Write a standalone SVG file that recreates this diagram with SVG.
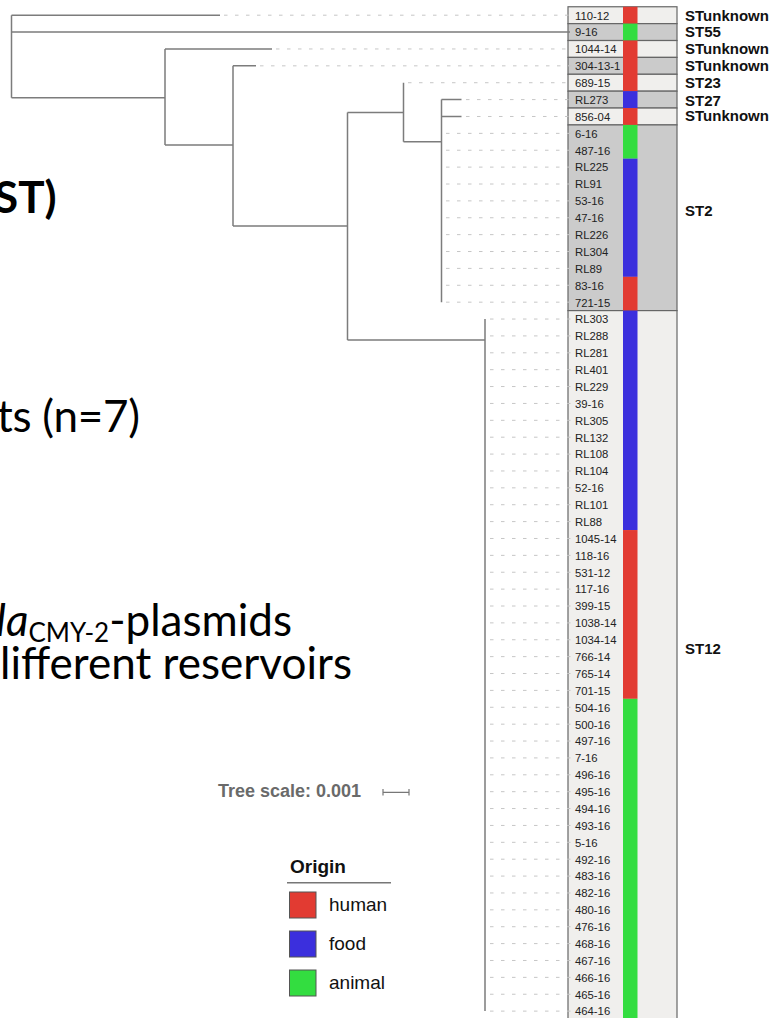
<svg xmlns="http://www.w3.org/2000/svg" width="775" height="1018" viewBox="0 0 775 1018">
<style>
.br{fill:none;stroke:#7c7c7c;stroke-width:1.5}
.ld{fill:none;stroke:#c6c6c6;stroke-width:1;stroke-dasharray:3.5 7.5}
.lb{font-family:"Liberation Sans",Arial,sans-serif;font-size:11.3px;fill:#222}
.st{font-family:"Liberation Sans",Arial,sans-serif;font-size:15px;font-weight:bold;fill:#111}
.rl{fill:#f0efed;stroke:#666;stroke-width:1.2}
.rg{fill:#cbcbcb;stroke:#666;stroke-width:1.2}
.slide{font-family:Lato,"Open Sans",sans-serif;font-size:44px;fill:#000}
.lg{font-family:"Liberation Sans",Arial,sans-serif;font-size:19px;fill:#111}
.sw{stroke:#555;stroke-width:1}
.red{fill:#e23b32}.grn{fill:#33dd40}.blu{fill:#3b2fdd}
</style>

<!-- slide background text (cropped) -->
<g id="slide-text">
<text class="slide" x="-6" y="213" font-weight="bold" font-size="51">ST)</text>
<text class="slide" x="-3" y="432" textLength="143">ts (n=7)</text>
<text class="slide" x="-4" y="636" font-size="43"><tspan font-style="italic">la</tspan><tspan font-size="26" dy="6">CMY-2</tspan><tspan dy="-6">-plasmids</tspan></text>
<text class="slide" x="0" y="679" textLength="352">lifferent reservoirs</text>
</g>

<!-- row backgrounds -->
<g id="row-backgrounds">
<rect class="rl" x="568" y="6.76" width="109" height="16.88"/>
<rect class="rg" x="568" y="23.64" width="109" height="16.88"/>
<rect class="rl" x="568" y="40.52" width="109" height="16.88"/>
<rect class="rg" x="568" y="57.4" width="109" height="16.88"/>
<rect class="rl" x="568" y="74.28" width="109" height="16.88"/>
<rect class="rg" x="568" y="91.16" width="109" height="16.88"/>
<rect class="rl" x="568" y="108.04" width="109" height="16.88"/>
<rect class="rg" x="568" y="124.92" width="109" height="185.68"/>
<rect class="rl" x="568" y="310.6" width="109" height="720"/>
</g>

<!-- origin colour strip -->
<g id="origin-strip">
<rect class="red" x="623" y="6.76" width="14.5" height="16.88"/>
<rect class="grn" x="623" y="23.64" width="14.5" height="16.88"/>
<rect class="red" x="623" y="40.52" width="14.5" height="50.64"/>
<rect class="blu" x="623" y="91.16" width="14.5" height="16.88"/>
<rect class="red" x="623" y="108.04" width="14.5" height="16.88"/>
<rect class="grn" x="623" y="124.92" width="14.5" height="33.76"/>
<rect class="blu" x="623" y="158.68" width="14.5" height="118.16"/>
<rect class="red" x="623" y="276.84" width="14.5" height="33.76"/>
<rect class="blu" x="623" y="310.6" width="14.5" height="219.44"/>
<rect class="red" x="623" y="530.04" width="14.5" height="168.8"/>
<rect class="grn" x="623" y="698.84" width="14.5" height="320.72"/>
</g>

<!-- connectors: tree branches and leader lines -->
<g id="connectors">
<path class="br" d="M11.5,15.2V97.7 M11.5,15.2H220 M11.5,32.08H570 M11.5,97.7H165 M165,48.96V145 M165,48.96H272 M165,145H233 M233,65.84V226 M233,65.84H256 M233,226H347.5 M347.5,112.5V340 M347.5,112.5H403.5 M403.5,82.72V141.7 M403.5,141.7H441.5 M441.5,99.6V302.16 M441.5,99.6H461.5 M441.5,116.48H461.5 M347.5,340H485 M485,319.04V1011.12"/>
<path class="ld" d="M224,15.2H572 M276,48.96H572 M260,65.84H572 M408,82.72H572 M466,99.6H572 M466,116.48H572
M446,133.36H572 M446,150.24H572 M446,167.12H572 M446,184H572 M446,200.88H572 M446,217.76H572 M446,234.64H572 M446,251.52H572 M446,268.4H572 M446,285.28H572 M446,302.16H572
M490,319.04H572 M490,335.92H572 M490,352.8H572 M490,369.68H572 M490,386.56H572 M490,403.44H572 M490,420.32H572 M490,437.2H572 M490,454.08H572 M490,470.96H572 M490,487.84H572 M490,504.72H572 M490,521.6H572 M490,538.48H572 M490,555.36H572 M490,572.24H572 M490,589.12H572 M490,606H572 M490,622.88H572 M490,639.76H572 M490,656.64H572 M490,673.52H572 M490,690.4H572 M490,707.28H572 M490,724.16H572 M490,741.04H572 M490,757.92H572 M490,774.8H572 M490,791.68H572 M490,808.56H572 M490,825.44H572 M490,842.32H572 M490,859.2H572 M490,876.08H572 M490,892.96H572 M490,909.84H572 M490,926.72H572 M490,943.6H572 M490,960.48H572 M490,977.36H572 M490,994.24H572 M490,1011.12H572"/>
</g>

<!-- leaves -->
<g id="leaves" class="lb">
<g id="leaf-110-12"><text x="575" y="19.5">110-12</text></g>
<g id="leaf-9-16"><text x="575" y="36.4">9-16</text></g>
<g id="leaf-1044-14"><text x="575" y="53.3">1044-14</text></g>
<g id="leaf-304-13-1"><text x="575" y="70.1">304-13-1</text></g>
<g id="leaf-689-15"><text x="575" y="87">689-15</text></g>
<g id="leaf-RL273"><text x="575" y="103.9">RL273</text></g>
<g id="leaf-856-04"><text x="575" y="120.8">856-04</text></g>
<g id="leaf-6-16"><text x="575" y="137.7">6-16</text></g>
<g id="leaf-487-16"><text x="575" y="154.5">487-16</text></g>
<g id="leaf-RL225"><text x="575" y="171.4">RL225</text></g>
<g id="leaf-RL91"><text x="575" y="188.3">RL91</text></g>
<g id="leaf-53-16"><text x="575" y="205.2">53-16</text></g>
<g id="leaf-47-16"><text x="575" y="222.1">47-16</text></g>
<g id="leaf-RL226"><text x="575" y="238.9">RL226</text></g>
<g id="leaf-RL304"><text x="575" y="255.8">RL304</text></g>
<g id="leaf-RL89"><text x="575" y="272.7">RL89</text></g>
<g id="leaf-83-16"><text x="575" y="289.6">83-16</text></g>
<g id="leaf-721-15"><text x="575" y="306.5">721-15</text></g>
<g id="leaf-RL303"><text x="575" y="323.3">RL303</text></g>
<g id="leaf-RL288"><text x="575" y="340.2">RL288</text></g>
<g id="leaf-RL281"><text x="575" y="357.1">RL281</text></g>
<g id="leaf-RL401"><text x="575" y="374">RL401</text></g>
<g id="leaf-RL229"><text x="575" y="390.9">RL229</text></g>
<g id="leaf-39-16"><text x="575" y="407.7">39-16</text></g>
<g id="leaf-RL305"><text x="575" y="424.6">RL305</text></g>
<g id="leaf-RL132"><text x="575" y="441.5">RL132</text></g>
<g id="leaf-RL108"><text x="575" y="458.4">RL108</text></g>
<g id="leaf-RL104"><text x="575" y="475.3">RL104</text></g>
<g id="leaf-52-16"><text x="575" y="492.1">52-16</text></g>
<g id="leaf-RL101"><text x="575" y="509">RL101</text></g>
<g id="leaf-RL88"><text x="575" y="525.9">RL88</text></g>
<g id="leaf-1045-14"><text x="575" y="542.8">1045-14</text></g>
<g id="leaf-118-16"><text x="575" y="559.7">118-16</text></g>
<g id="leaf-531-12"><text x="575" y="576.5">531-12</text></g>
<g id="leaf-117-16"><text x="575" y="593.4">117-16</text></g>
<g id="leaf-399-15"><text x="575" y="610.3">399-15</text></g>
<g id="leaf-1038-14"><text x="575" y="627.2">1038-14</text></g>
<g id="leaf-1034-14"><text x="575" y="644.1">1034-14</text></g>
<g id="leaf-766-14"><text x="575" y="660.9">766-14</text></g>
<g id="leaf-765-14"><text x="575" y="677.8">765-14</text></g>
<g id="leaf-701-15"><text x="575" y="694.7">701-15</text></g>
<g id="leaf-504-16"><text x="575" y="711.6">504-16</text></g>
<g id="leaf-500-16"><text x="575" y="728.5">500-16</text></g>
<g id="leaf-497-16"><text x="575" y="745.3">497-16</text></g>
<g id="leaf-7-16"><text x="575" y="762.2">7-16</text></g>
<g id="leaf-496-16"><text x="575" y="779.1">496-16</text></g>
<g id="leaf-495-16"><text x="575" y="796">495-16</text></g>
<g id="leaf-494-16"><text x="575" y="812.9">494-16</text></g>
<g id="leaf-493-16"><text x="575" y="829.7">493-16</text></g>
<g id="leaf-5-16"><text x="575" y="846.6">5-16</text></g>
<g id="leaf-492-16"><text x="575" y="863.5">492-16</text></g>
<g id="leaf-483-16"><text x="575" y="880.4">483-16</text></g>
<g id="leaf-482-16"><text x="575" y="897.3">482-16</text></g>
<g id="leaf-480-16"><text x="575" y="914.1">480-16</text></g>
<g id="leaf-476-16"><text x="575" y="931">476-16</text></g>
<g id="leaf-468-16"><text x="575" y="947.9">468-16</text></g>
<g id="leaf-467-16"><text x="575" y="964.8">467-16</text></g>
<g id="leaf-466-16"><text x="575" y="981.7">466-16</text></g>
<g id="leaf-465-16"><text x="575" y="998.5">465-16</text></g>
<g id="leaf-464-16"><text x="575" y="1015.4">464-16</text></g>
</g>

<!-- sequence type labels -->
<g id="st-labels" class="st">
<text x="685" y="20.5">STunknown</text>
<text x="685" y="37.3">ST55</text>
<text x="685" y="54">STunknown</text>
<text x="685" y="70.8">STunknown</text>
<text x="685" y="88">ST23</text>
<text x="685" y="106">ST27</text>
<text x="685" y="120.8">STunknown</text>
<text x="685" y="216">ST2</text>
<text x="685" y="654">ST12</text>
</g>

<!-- tree scale -->
<g id="tree-scale">
<text x="218" y="797" font-family="Liberation Sans,Arial,sans-serif" font-size="18" font-weight="bold" fill="#6a6a6a">Tree scale: 0.001</text>
<path d="M383,792.3H409 M383,789V795.6 M409,789V795.6" fill="none" stroke="#777" stroke-width="1.2"/>
</g>

<!-- legend -->
<g id="legend">
<text class="lg" x="290" y="873" font-weight="bold">Origin</text>
<path d="M287,882.7H391" stroke="#777" stroke-width="1.5"/>
<rect class="sw red" x="289.5" y="892" width="26.5" height="26"/>
<text class="lg" x="329" y="911">human</text>
<rect class="sw blu" x="289.5" y="931" width="26.5" height="26"/>
<text class="lg" x="329" y="950">food</text>
<rect class="sw grn" x="289.5" y="970" width="26.5" height="26"/>
<text class="lg" x="329" y="989">animal</text>
</g>
</svg>
